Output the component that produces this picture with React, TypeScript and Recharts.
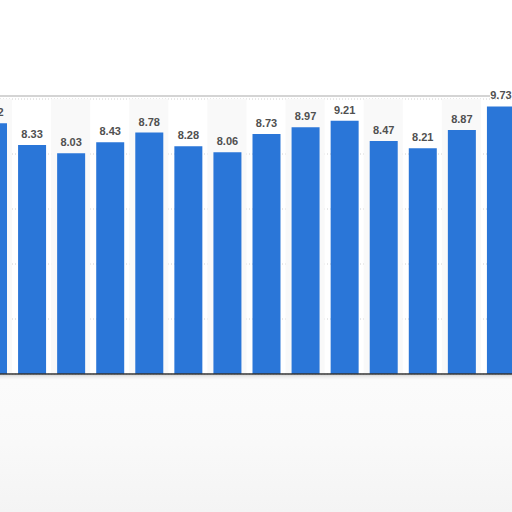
import React from "react";
import {
  BarChart,
  Bar,
  XAxis,
  YAxis,
  CartesianGrid,
  ReferenceArea,
  ReferenceLine,
  LabelList,
} from "recharts";

const categories = ["c1", "c2", "c3", "c4", "c5", "c6", "c7", "c8", "c9", "c10", "c11", "c12", "c13", "c14"];
const values = [9.12, 8.33, 8.03, 8.43, 8.78, 8.28, 8.06, 8.73, 8.97, 9.21, 8.47, 8.21, 8.87, 9.73];
const yTicks = [0, 2, 4, 6, 8, 10];

const data = categories.map((name, i) => ({ name, value: values[i] }));
const shaded = categories.filter((_, i) => i % 2 === 0);

export default function App() {
  return (
    <div
      style={{
        position: "fixed",
        left: 0,
        top: 0,
        width: 512,
        height: 512,
        overflow: "hidden",
        background: "#ffffff",
      }}
    >
      <div
        style={{
          position: "absolute",
          left: 0,
          top: 375,
          width: 512,
          height: 137,
          background:
            "linear-gradient(to bottom, #d8d8d8 0px, #eeeeee 2px, #fbfbfb 5px, #f9f9f9 50%, #f4f4f4 100%)",
        }}
      />
      <div
        style={{
          position: "absolute",
          left: 0,
          top: 95,
          width: 490,
          height: 2,
          background: "#d4d4d4",
        }}
      />
      <div style={{ position: "absolute", left: -27.5, top: 0 }}>
        <BarChart
          width={547}
          height={394}
          data={data}
          margin={{ top: 99, right: 0, bottom: 20, left: 0 }}
          barSize={28}
        >
          {shaded.map((c) => (
            <ReferenceArea key={c} x1={c} x2={c} fill="#f9f9f9" fillOpacity={1} stroke="none" ifOverflow="visible" />
          ))}
          <CartesianGrid vertical={false} stroke="#d0d0d0" strokeDasharray="1 2" />
          <XAxis dataKey="name" hide />
          <YAxis hide domain={[0, 10]} ticks={yTicks} />
          <Bar dataKey="value" fill="#2a76d8" isAnimationActive={false}>
            <LabelList
              dataKey="value"
              position="top"
              offset={7}
              fill="#505050"
              fontSize={11}
              fontWeight="bold"
              fontFamily="Liberation Sans, Arial, sans-serif"
            />
          </Bar>
          <ReferenceLine y={0} stroke="#333333" strokeWidth={1.5} />
        </BarChart>
      </div>
    </div>
  );
}
